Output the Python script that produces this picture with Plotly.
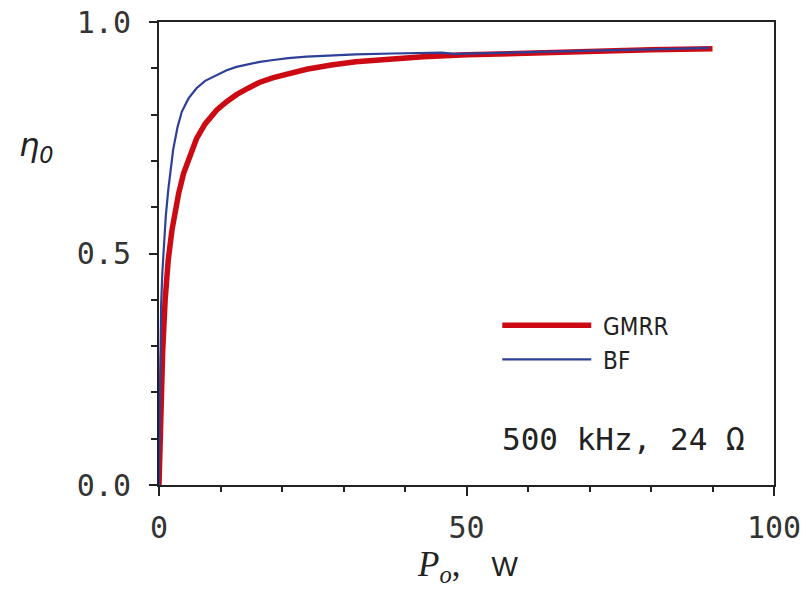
import plotly.graph_objects as go

# GMRR (red, thick)
gmrr_p = [0, 0.15, 0.3, 0.6, 1.0, 1.5, 2.1, 2.6, 3.2, 4.0, 5.0, 6.1, 7.5, 9.4, 11, 12.6, 14.5, 16.4, 18.6, 21, 24, 28, 32, 38, 43, 50, 60, 70, 80, 90]
gmrr_eta = [0, 0.08, 0.16, 0.29, 0.40, 0.486, 0.55, 0.59, 0.63, 0.673, 0.712, 0.748, 0.78, 0.81, 0.828, 0.843, 0.857, 0.87, 0.88, 0.889, 0.898, 0.907, 0.914, 0.92, 0.925, 0.929, 0.933, 0.937, 0.94, 0.942]

# BF (blue, thin)
bf_p = [0, 0.1, 0.2, 0.35, 0.55, 0.8, 1.1, 1.5, 1.9, 2.3, 3.0, 3.7, 4.8, 6.1, 7.5, 9.4, 11, 12.6, 14.5, 16.4, 18.6, 21, 24, 28, 32, 38, 43, 46, 48, 52, 60, 70, 80, 89.5]
bf_eta = [0, 0.15, 0.28, 0.39, 0.46, 0.52, 0.58, 0.637, 0.685, 0.724, 0.772, 0.806, 0.835, 0.857, 0.873, 0.886, 0.896, 0.903, 0.909, 0.914, 0.918, 0.922, 0.925, 0.928, 0.930, 0.932, 0.933, 0.934, 0.931, 0.932, 0.935, 0.938, 0.941, 0.944]

x_ticks = [0, 50, 100]
x_tick_labels = ["0", "50", "100"]
y_ticks = [0.0, 0.5, 1.0]
y_tick_labels = ["0.0", "0.5", "1.0"]

RED = "#cc0a14"
BLUE = "#2e3f98"
AX = "#222222"

fig = go.Figure()
fig.add_trace(go.Scatter(x=gmrr_p, y=gmrr_eta, mode="lines", name="\u00a0GMRR",
                         line=dict(color=RED, width=5.5)))
fig.add_trace(go.Scatter(x=bf_p, y=bf_eta, mode="lines", name="\u00a0BF",
                         line=dict(color=BLUE, width=2.2)))

tickfont = dict(family="DejaVu Sans Mono", size=30, color="#333333")
fig.update_xaxes(range=[0, 100], tickvals=x_ticks, ticktext=x_tick_labels,
                 showline=True, linecolor=AX, linewidth=2, mirror=True,
                 ticks="outside", ticklen=9, tickwidth=2, tickcolor=AX,
                 minor=dict(dtick=10, ticks="outside", ticklen=5, tickwidth=2, tickcolor=AX),
                 showgrid=False, zeroline=False, tickfont=tickfont, ticklabelstandoff=6,
                 automargin=False, ticklabeloverflow="allow")
fig.update_yaxes(range=[0, 1], tickvals=y_ticks, ticktext=y_tick_labels,
                 showline=True, linecolor=AX, linewidth=2, mirror=True,
                 ticks="outside", ticklen=8, tickwidth=2, tickcolor=AX,
                 minor=dict(dtick=0.1, ticks="outside", ticklen=6, tickwidth=2, tickcolor=AX),
                 showgrid=False, zeroline=False, tickfont=tickfont, ticklabelstandoff=12,
                 automargin=False, ticklabeloverflow="allow")

fig.update_layout(
    width=806, height=595,
    margin=dict(l=159, r=32, t=22, b=110),
    paper_bgcolor="white", plot_bgcolor="white",
    showlegend=True,
    legend=dict(x=0.55, y=0.393, xanchor="left", yanchor="top",
                bgcolor="rgba(0,0,0,0)", itemwidth=89,
                font=dict(family="DejaVu Sans Condensed, Liberation Sans", size=24, color="#222"),
                tracegroupgap=0),
    annotations=[
        dict(text="<i>η<sub>0</sub></i>", xref="paper", yref="paper", x=-0.200, y=0.730,
             xanchor="center", yanchor="middle",
             showarrow=False, font=dict(family="DejaVu Sans", size=32, color="#222")),
        dict(text="<span style='font-family:Liberation Serif;font-size:35px'><i>P<sub>o</sub></i>,</span>&nbsp;&nbsp;&nbsp;&nbsp;W",
             xref="paper", yref="paper", x=0.503, y=-0.177,
             xanchor="center", yanchor="middle",
             showarrow=False, font=dict(family="Liberation Sans", size=28, color="#222")),
        dict(text="500 kHz, 24 Ω", xref="paper", yref="paper", x=0.956, y=0.099,
             xanchor="right", yanchor="middle", showarrow=False,
             font=dict(family="DejaVu Sans Mono", size=31, color="#222")),
    ],
)

fig.write_html("out.html", config={"displayModeBar": False},
               post_script="document.body.style.margin='0px';document.body.style.overflow='hidden';")
